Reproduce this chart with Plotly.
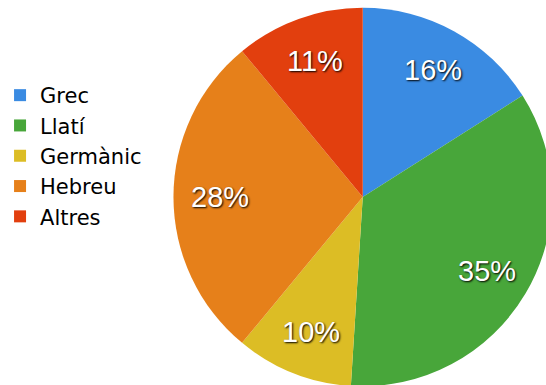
import math
import plotly.graph_objects as go

categories = ["Grec", "Llatí", "Germànic", "Hebreu", "Altres"]
values = [16, 35, 10, 28, 11]
colors = ["#3a8be2", "#48a63a", "#dcbd25", "#e6801a", "#e23f0e"]

W, H = 552, 392
cx, cy, r = 362, 197, 192
LABEL_DIST = 145

fig = go.Figure(
    go.Pie(
        labels=categories,
        values=values,
        sort=False,
        direction="clockwise",
        rotation=0,
        marker=dict(colors=colors, line=dict(width=0)),
        textinfo="none",
        hoverinfo="label+percent",
        domain=dict(x=[(cx - r) / W, min(1, (cx + r) / W)],
                    y=[max(0, 1 - (cy + r) / H), 1 - (cy - r) / H]),
    )
)

# percentage labels placed at the mid-angle of each slice
total = sum(values)
cum = 0.0
for v in values:
    mid = (cum + v / 2) / total * 2 * math.pi
    cum += v
    px = cx + LABEL_DIST * math.sin(mid)
    py = cy - LABEL_DIST * math.cos(mid)
    fig.add_annotation(
        x=px / W, y=1 - py / H, xref="paper", yref="paper",
        text=f"{v / total * 100:.0f}%", showarrow=False,
        xanchor="center", yanchor="middle",
        font=dict(family="Liberation Sans, Arial", size=29, color="white",
                  shadow="1px 1px 2px #000"),
    )

fig.update_layout(
    width=W,
    height=H,
    margin=dict(l=0, r=0, t=0, b=0),
    paper_bgcolor="white",
    plot_bgcolor="white",
    showlegend=True,
    legend=dict(
        x=-5 / W, xanchor="left",
        y=1 - 156 / H, yanchor="middle",
        font=dict(family="DejaVu Sans", size=21, color="#000"),
        bgcolor="rgba(0,0,0,0)",
        itemclick=False,
    ),
)

fig.write_html(
    "out.html",
    post_script="document.body.style.margin='0';document.body.style.overflow='hidden';document.documentElement.style.overflow='hidden';",
)
